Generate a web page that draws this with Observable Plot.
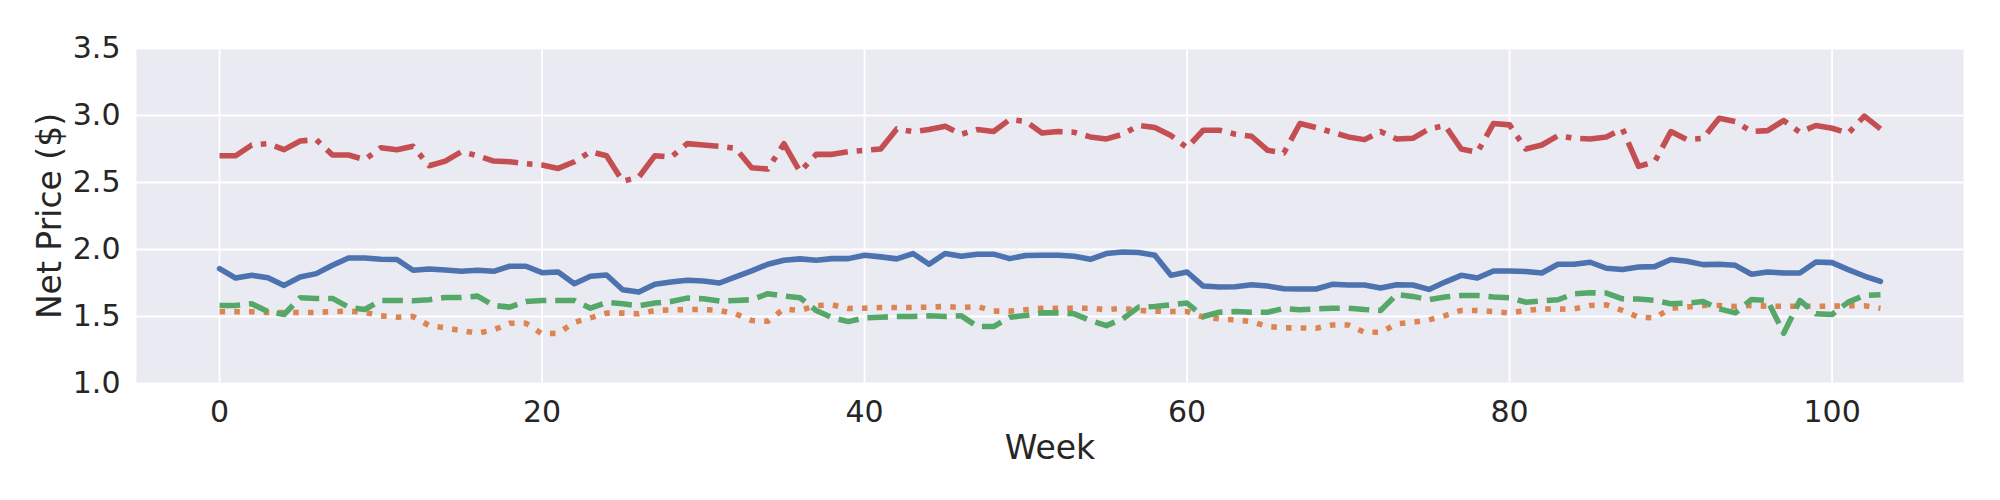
<!DOCTYPE html>
<html>
<head>
<meta charset="utf-8">
<script src="https://cdn.jsdelivr.net/npm/d3@7"></script>
<script src="https://cdn.jsdelivr.net/npm/@observablehq/plot@0.6"></script>
<style>
  html, body { margin: 0; padding: 0; background: #ffffff; }
  #chart { width: 2000px; height: 500px; }
</style>
</head>
<body>
<div id="chart"></div>
<script>
const weeks = d3.range(0, 104);

const seriesBlue = [
  1.857,1.787,1.807,1.79,1.732,1.795,1.82,1.882,1.937,1.937,
  1.927,1.925,1.845,1.855,1.847,1.837,1.845,1.837,1.875,1.875,
  1.827,1.832,1.745,1.80,1.81,1.70,1.682,1.74,1.757,1.77,
  1.765,1.75,1.795,1.84,1.89,1.92,1.93,1.92,1.932,1.932,
  1.957,1.945,1.93,1.97,1.89,1.97,1.95,1.965,1.965,1.932,
  1.955,1.957,1.957,1.95,1.927,1.97,1.982,1.977,1.957,1.807,
  1.832,1.727,1.72,1.722,1.737,1.727,1.707,1.705,1.705,1.74,
  1.735,1.735,1.712,1.737,1.735,1.702,1.757,1.807,1.787,1.84,
  1.84,1.836,1.825,1.89,1.89,1.905,1.86,1.85,1.87,1.872,
  1.925,1.912,1.887,1.89,1.882,1.815,1.832,1.825,1.825,1.907,
  1.902,1.85,1.802,1.762
];

const seriesOrange = [
  1.535,1.535,1.535,1.53,1.53,1.53,1.53,1.537,1.54,1.532,
  1.505,1.495,1.50,1.432,1.415,1.395,1.375,1.40,1.45,1.45,
  1.37,1.375,1.457,1.49,1.525,1.525,1.52,1.545,1.55,1.552,
  1.552,1.545,1.52,1.47,1.465,1.557,1.545,1.582,1.587,1.56,
  1.562,1.567,1.567,1.567,1.57,1.575,1.567,1.575,1.54,1.54,
  1.55,1.562,1.562,1.562,1.562,1.55,1.562,1.545,1.54,1.537,
  1.537,1.495,1.482,1.475,1.462,1.425,1.415,1.415,1.412,1.437,
  1.437,1.382,1.382,1.445,1.457,1.475,1.507,1.545,1.545,1.537,
  1.527,1.545,1.557,1.555,1.557,1.582,1.587,1.545,1.495,1.49,
  1.562,1.57,1.582,1.582,1.575,1.582,1.577,1.577,1.577,1.577,
  1.577,1.58,1.58,1.562
];

const seriesGreen = [
  1.582,1.582,1.595,1.537,1.515,1.64,1.635,1.635,1.57,1.552,
  1.62,1.62,1.617,1.625,1.642,1.642,1.652,1.582,1.57,1.612,
  1.62,1.62,1.62,1.562,1.605,1.595,1.58,1.60,1.612,1.637,
  1.632,1.615,1.62,1.625,1.67,1.652,1.64,1.545,1.49,1.462,
  1.49,1.495,1.50,1.50,1.505,1.50,1.505,1.425,1.425,1.495,
  1.507,1.527,1.527,1.52,1.47,1.432,1.482,1.57,1.575,1.587,
  1.60,1.50,1.532,1.537,1.532,1.532,1.56,1.55,1.557,1.562,
  1.562,1.552,1.545,1.665,1.65,1.625,1.645,1.657,1.657,1.645,
  1.64,1.607,1.617,1.625,1.67,1.677,1.675,1.632,1.63,1.62,
  1.595,1.60,1.612,1.557,1.527,1.627,1.62,1.375,1.62,1.52,
  1.515,1.607,1.657,1.662
];

const seriesRed = [
  2.70,2.70,2.78,2.79,2.745,2.81,2.82,2.705,2.705,2.67,
  2.76,2.745,2.77,2.625,2.66,2.73,2.70,2.66,2.655,2.64,
  2.63,2.605,2.655,2.73,2.70,2.51,2.54,2.70,2.69,2.79,
  2.78,2.77,2.755,2.61,2.60,2.79,2.58,2.71,2.71,2.73,
  2.74,2.75,2.90,2.88,2.895,2.92,2.86,2.895,2.88,2.97,
  2.955,2.87,2.88,2.875,2.84,2.825,2.86,2.925,2.91,2.85,
  2.76,2.89,2.89,2.86,2.845,2.74,2.72,2.94,2.91,2.875,
  2.84,2.82,2.88,2.825,2.83,2.90,2.925,2.75,2.725,2.94,
  2.93,2.75,2.78,2.85,2.83,2.825,2.84,2.90,2.62,2.655,
  2.88,2.82,2.83,2.98,2.955,2.88,2.887,2.962,2.875,2.925,
  2.905,2.867,2.995,2.90
];

const xTicks = [0, 20, 40, 60, 80, 100];
const yTicks = [1.0, 1.5, 2.0, 2.5, 3.0, 3.5];

const toRows = (arr) => weeks.map((w, i) => ({week: w, price: arr[i]}));

const lw = 5.56;
const textColor = "#262626";
const font = "DejaVu Sans, sans-serif";

const chart = Plot.plot({
  width: 2000,
  height: 500,
  marginLeft: 136,
  marginRight: 37,
  marginTop: 48,
  marginBottom: 117,
  style: {fontFamily: font, fontSize: "30px", color: textColor, background: "#ffffff", overflow: "visible"},
  x: {domain: [-5.15, 108.15], ticks: xTicks},
  y: {domain: [1.0, 3.5], ticks: yTicks},
  marks: [
    Plot.frame({fill: "#EAEAF2", stroke: "none"}),
    Plot.gridX(xTicks, {stroke: "#ffffff", strokeOpacity: 1, strokeWidth: 1.8}),
    Plot.gridY(yTicks, {stroke: "#ffffff", strokeOpacity: 1, strokeWidth: 1.8}),
    Plot.axisX(xTicks, {tickSize: 0, tickPadding: 17, fontSize: 30, fill: textColor, label: null}),
    Plot.axisY(yTicks, {tickSize: 0, tickPadding: 16, fontSize: 30, fill: textColor, label: null, tickFormat: d3.format(".1f")}),
    Plot.line(toRows(seriesBlue), {x: "week", y: "price", stroke: "#4C72B0", strokeWidth: lw, strokeLinejoin: "round", strokeLinecap: "round"}),
    Plot.line(toRows(seriesOrange), {x: "week", y: "price", stroke: "#DD8452", strokeWidth: lw, strokeDasharray: `${lw},${1.65*lw}`, strokeLinejoin: "round", strokeLinecap: "butt"}),
    Plot.line(toRows(seriesGreen), {x: "week", y: "price", stroke: "#55A868", strokeWidth: lw, strokeDasharray: `${3.7*lw},${1.6*lw}`, strokeLinejoin: "round", strokeLinecap: "butt"}),
    Plot.line(toRows(seriesRed), {x: "week", y: "price", stroke: "#C44E52", strokeWidth: lw, strokeDasharray: `${6.4*lw},${1.6*lw},${lw},${1.6*lw}`, strokeLinejoin: "round", strokeLinecap: "butt"}),
    Plot.text(["Week"], {frameAnchor: "bottom", textAnchor: "middle", lineAnchor: "top", dy: 52, fontSize: 33, fill: textColor, fontFamily: font}),
    Plot.text(["Net Price ($)"], {frameAnchor: "left", textAnchor: "middle", lineAnchor: "middle", rotate: -90, dx: -86, fontSize: 33, fill: textColor, fontFamily: font})
  ]
});

document.getElementById("chart").appendChild(chart);
</script>
</body>
</html>
